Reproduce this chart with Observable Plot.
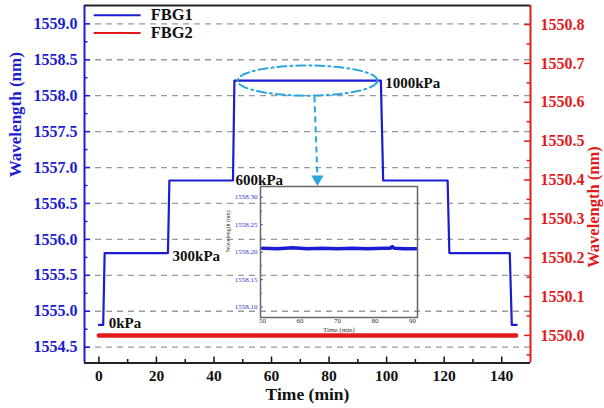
<!DOCTYPE html>
<html><head><meta charset="utf-8">
<script src="https://cdn.jsdelivr.net/npm/d3@7"></script>
<script src="https://cdn.jsdelivr.net/npm/@observablehq/plot@0.6"></script>
<style>
html,body{margin:0;padding:0;background:#fff;}
#wrap{position:relative;width:604px;height:408px;overflow:hidden;}
#inset{position:absolute;left:225px;top:182px;}
</style></head><body><div id="wrap"><div id="main"></div><div id="inset"></div></div>
<script>
// ---- data ----
const fbg1Time = [0, 1.5, 2.0, 24.0, 24.5, 46.6, 47.1, 98.0, 98.8, 121.2, 121.8, 142.8, 143.5, 145.2];
const fbg1Wavelength = [1554.81, 1554.81, 1555.81, 1555.81, 1556.82, 1556.82, 1558.21, 1558.21, 1556.82, 1556.82, 1555.81, 1555.81, 1554.81, 1554.81];
const fbg2Time = [0, 145];
const fbg2Wavelength = [1550.0, 1550.0];
const pressureLabels = ["0kPa", "300kPa", "600kPa", "1000kPa"];
const pressureLabelTime = [3.4, 25.6, 47.5, 99.5];
const pressureLabelWavelength = [1554.83, 1555.76, 1556.83, 1558.18];
const leftTicks = [1554.5, 1555.0, 1555.5, 1556.0, 1556.5, 1557.0, 1557.5, 1558.0, 1558.5, 1559.0];
const rightTicks = [1550.0, 1550.1, 1550.2, 1550.3, 1550.4, 1550.5, 1550.6, 1550.7, 1550.8];
const xTicks = [0, 20, 40, 60, 80, 100, 120, 140];
const seriesNames = ["FBG1", "FBG2"];
const insetTime = [50, 54, 58, 62, 66, 70, 74, 78, 82, 84, 84.6, 85.2, 88, 91];
const insetWavelength = [1558.207, 1558.206, 1558.208, 1558.206, 1558.207, 1558.206, 1558.207, 1558.206, 1558.207, 1558.207, 1558.210, 1558.207, 1558.206, 1558.206];
const insetYTicks = [1558.10, 1558.15, 1558.20, 1558.25, 1558.30];
const insetXTicks = [50, 60, 70, 80, 90];

// ---- scales / layout ----
const BLUE = "#1c1cd2", RED = "#e31a1c", CYAN = "#2aa5e0";
const xDom = [-5, 150];
const yDom = [1554.28, 1559.255];
const rDom = [1549.929, 1550.849];
const toLeft = v => yDom[0] + (v - rDom[0]) * (yDom[1] - yDom[0]) / (rDom[1] - rDom[0]);
const fromLeft = v => rDom[0] + (v - yDom[0]) * (rDom[1] - rDom[0]) / (yDom[1] - yDom[0]);
const W = 604, H = 408, mL = 84, mR = 74, mT = 5, mB = 45.5;
const PW = W - mL - mR, PH = H - mT - mB;
const FONT = "'Liberation Serif', 'Times New Roman', serif";

const fbg1 = fbg1Time.map((t, i) => ({t, w: fbg1Wavelength[i]}));
const fbg2 = fbg2Time.map((t, i) => ({t, w: toLeft(fbg2Wavelength[i])}));
const labels = pressureLabels.map((s, i) => ({s, t: pressureLabelTime[i], w: pressureLabelWavelength[i]}));
const mids = a => a.slice(1).map((v, i) => (v + a[i]) / 2);
const leftMinor = mids(leftTicks);
const rightMinor = [1549.95, ...mids(rightTicks)].map(toLeft);
const xMinor = mids(xTicks);

// ellipse annotation (geometry, data units)
const ell = {t: 72.5, w: 1558.21, rt: 24.3, rw: 0.21};
const ellPts = d3.range(0, 361, 4).map(a => ({t: ell.t + ell.rt * Math.cos(a * Math.PI / 180), w: ell.w + ell.rw * Math.sin(a * Math.PI / 180)}));

// legend layout (data units)
const legend = seriesNames.map((s, i) => ({s, w: [1559.12, 1558.872][i], c: [BLUE, RED][i]}));

const main = Plot.plot({
  width: W, height: H, marginLeft: mL, marginRight: mR, marginTop: mT, marginBottom: mB,
  style: {fontFamily: FONT, fontWeight: "bold", background: "white"},
  x: {domain: xDom},
  y: {domain: yDom},
  marks: [
    Plot.ruleY(leftTicks, {stroke: "#9a9a9a", strokeDasharray: "6,5", strokeWidth: 1.3}),
    // inward ticks
    Plot.tickY(leftTicks, {stroke: BLUE, strokeWidth: 1.5, insetRight: PW - 6}),
    Plot.tickY(leftMinor, {stroke: BLUE, strokeWidth: 1.5, insetRight: PW - 3.5}),
    Plot.tickY(rightTicks.map(toLeft), {stroke: RED, strokeWidth: 1.5, insetLeft: PW - 6}),
    Plot.tickY(rightMinor, {stroke: RED, strokeWidth: 1.5, insetLeft: PW - 3.5}),
    Plot.tickX(xTicks, {stroke: "#111", strokeWidth: 1.5, insetTop: PH - 6}),
    Plot.tickX(xMinor, {stroke: "#111", strokeWidth: 1.5, insetTop: PH - 3.5}),
    // frame
    Plot.ruleY([yDom[1]], {stroke: "#222", strokeWidth: 2}),
    Plot.ruleY([yDom[0]], {stroke: "#222", strokeWidth: 2}),
    Plot.ruleX([xDom[0]], {stroke: BLUE, strokeWidth: 2}),
    Plot.ruleX([xDom[1]], {stroke: RED, strokeWidth: 2}),
    // axes
    Plot.axisY({anchor: "left", label: null, ticks: leftTicks, tickSize: 0, tickPadding: 7, tickFormat: d => d.toFixed(1), fill: BLUE, fontSize: 16}),
    Plot.axisY({anchor: "right", label: null, ticks: rightTicks.map(toLeft), tickSize: 0, tickPadding: 10, tickFormat: d => fromLeft(d).toFixed(1), fill: RED, fontSize: 16}),
    Plot.axisX({label: null, ticks: xTicks, tickSize: 0, tickPadding: 7, tickFormat: d => String(d), fill: "#111", fontSize: 15.5}),
    Plot.text(["Wavelength (nm)"], {frameAnchor: "left", rotate: -90, dx: -69, dy: -7, fill: BLUE, fontSize: 17}),
    Plot.text(["Wavelength (nm)"], {frameAnchor: "right", rotate: -90, dx: 63, dy: -38, fill: RED, fontSize: 16.5}),
    Plot.text(["Time (min)"], {frameAnchor: "bottom", dy: 36.5, fill: "#111", fontSize: 17.5}),
    // data
    Plot.line(fbg2, {x: "t", y: "w", stroke: RED, strokeWidth: 4.5}),
    Plot.line(fbg1, {x: "t", y: "w", stroke: BLUE, strokeWidth: 2.2}),
    Plot.text(labels, {x: "t", y: "w", text: "s", textAnchor: "start", fill: "#111", fontSize: 15}),
    // annotation
    Plot.line(ellPts, {x: "t", y: "w", stroke: CYAN, strokeWidth: 2, strokeDasharray: "9,4,2,4"}),
    Plot.link([{t1: 74.9, w1: 1557.99, t2: 75.9, w2: 1556.92}], {x1: "t1", y1: "w1", x2: "t2", y2: "w2", stroke: CYAN, strokeWidth: 2, strokeDasharray: "6,4"}),
    Plot.dot([{t: 75.95, w: 1556.84}], {x: "t", y: "w", symbol: "triangle", rotate: 180, r: 4.5, fill: CYAN, stroke: "none"}),
    // legend
    Plot.link(legend, {x1: -1.8, x2: 14.5, y1: "w", y2: "w", stroke: "c", strokeWidth: 2}),
    Plot.text(legend, {x: 18, y: "w", text: "s", textAnchor: "start", fill: "#111", fontSize: 16.5})
  ]
});
document.getElementById("main").appendChild(main);

// ---- inset ----
const iW = 197, iH = 155, imL = 35, imR = 5, imT = 4, imB = 20;
const iPW = iW - imL - imR;
const insetData = insetTime.map((t, i) => ({t, w: insetWavelength[i]}));
const inset = Plot.plot({
  width: iW, height: iH, marginLeft: imL, marginRight: imR, marginTop: imT, marginBottom: imB,
  style: {fontFamily: FONT, background: "transparent", overflow: "visible"},
  x: {domain: [49.47, 91.33]},
  y: {domain: [1558.081, 1558.3195]},
  marks: [
    Plot.line(insetData, {x: "t", y: "w", stroke: BLUE, strokeWidth: 3.5}),
    Plot.tickY(insetYTicks, {stroke: "#5a5ab0", strokeWidth: 1, insetRight: iPW - 3}),
    Plot.tickY(mids(insetYTicks), {stroke: "#5a5ab0", strokeWidth: 1, insetRight: iPW - 2}),
    Plot.frame({stroke: "#666", strokeWidth: 1.5}),
    Plot.axisY({anchor: "left", label: null, ticks: insetYTicks, tickSize: 0, tickPadding: 3, tickFormat: d => d.toFixed(2), fill: "#3535d0", fontSize: 7}),
    Plot.axisX({label: null, ticks: insetXTicks, tickSize: 0, tickPadding: 1, tickFormat: d => String(d), fill: "#333", fontSize: 7}),
    Plot.text(["Wavelength (nm)"], {frameAnchor: "left", rotate: -90, dx: -32, fill: "#333", fontSize: 6}),
    Plot.text(["Time (min)"], {frameAnchor: "bottom", dy: 14.5, fill: "#333", fontSize: 7})
  ]
});
document.getElementById("inset").appendChild(inset);
</script></body></html>
